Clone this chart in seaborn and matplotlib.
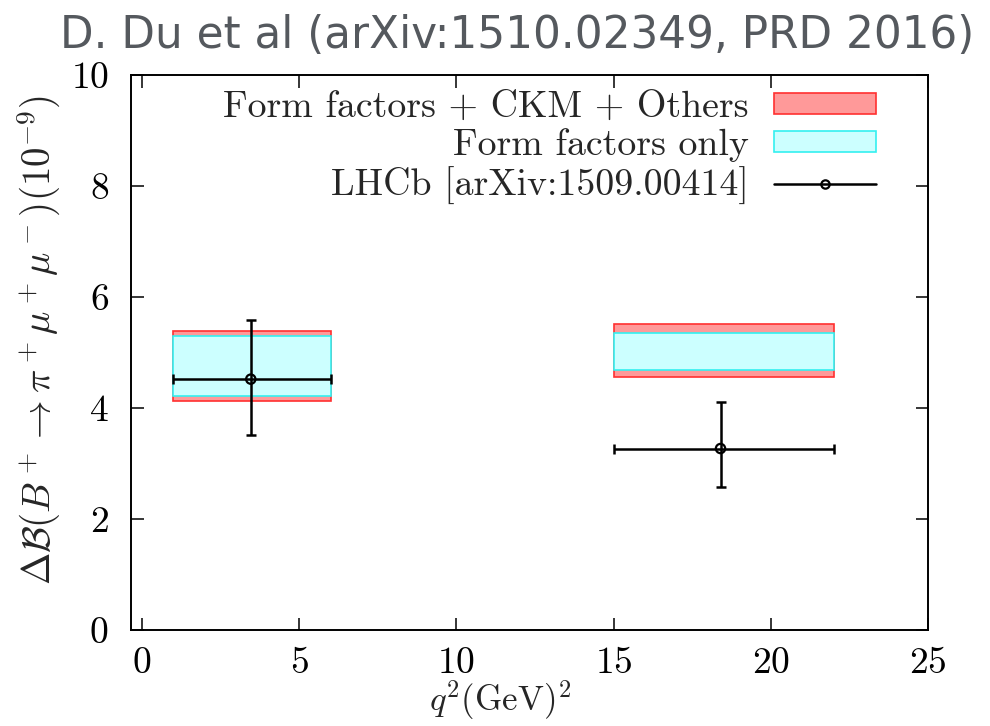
import matplotlib
matplotlib.use("Agg")
import matplotlib.pyplot as plt
import seaborn as sns
import pandas as pd
from matplotlib.patches import Patch
from matplotlib.lines import Line2D

# q^2 bins (GeV^2)
bin_lo = [1.0, 15.0]
bin_hi = [6.0, 22.0]

# Theory band: form factors + CKM + others (10^-9)
full_lo = [4.13, 4.55]
full_hi = [5.39, 5.51]

# Theory band: form factors only (10^-9)
ff_lo = [4.21, 4.68]
ff_hi = [5.30, 5.36]

# LHCb measurement
lhcb_q2 = [3.46, 18.4]
lhcb_val = [4.52, 3.27]
lhcb_err_up = [1.07, 0.84]
lhcb_err_dn = [1.00, 0.69]

x_ticks = [0, 5, 10, 15, 20, 25]
y_ticks = [0, 2, 4, 6, 8, 10]

legend_labels = ["Form factors + CKM + Others", "Form factors only",
                 "LHCb [arXiv:1509.00414]"]
title = "D. Du et al (arXiv:1510.02349, PRD 2016)"

sns.set_theme(style="ticks")
plt.rcParams.update({
    "font.family": "serif",
    "font.serif": ["cmr10"],
    "mathtext.fontset": "cm",
    "axes.unicode_minus": False,
    "axes.formatter.use_mathtext": True,
})

df = pd.DataFrame({"q2": lhcb_q2, "val": lhcb_val})

fig = plt.figure(figsize=(9.9, 7.26), dpi=100)
ax = fig.add_axes([0.1323, 0.1322, 0.9374 - 0.1323, 0.8967 - 0.1322])

red_face, red_edge = "#ff9999", "#ff3030"
cyan_face, cyan_edge = "#ccffff", "#33f0f0"

for lo, hi, a, b in zip(bin_lo, bin_hi, full_lo, full_hi):
    ax.bar((lo + hi) / 2, b - a, bottom=a, width=hi - lo,
           color=red_face, edgecolor=red_edge, linewidth=1.2, zorder=2)
for lo, hi, a, b in zip(bin_lo, bin_hi, ff_lo, ff_hi):
    ax.bar((lo + hi) / 2, b - a, bottom=a, width=hi - lo,
           color=cyan_face, edgecolor=cyan_edge, linewidth=1.2, zorder=3)

xerr_lo = [c - lo for c, lo in zip(lhcb_q2, bin_lo)]
xerr_hi = [hi - c for c, hi in zip(lhcb_q2, bin_hi)]
ax.errorbar(lhcb_q2, lhcb_val, xerr=[xerr_lo, xerr_hi],
            yerr=[lhcb_err_dn, lhcb_err_up], fmt="none", ecolor="black",
            elinewidth=1.8, capsize=3.5, capthick=1.8, zorder=4)
sns.scatterplot(data=df, x="q2", y="val", ax=ax, marker="o", s=45,
                facecolor="none", edgecolor="black", linewidth=1.6, zorder=5)

ax.set_xlim(-0.35, 25)
ax.set_ylim(0, 10)
ax.set_xticks(x_ticks)
ax.set_yticks(y_ticks)
ax.tick_params(direction="in", length=9, width=1.1, top=True, right=True,
               labelsize=27, colors="black")
ax.tick_params(axis="x", pad=12)
ax.tick_params(axis="y", pad=16)
for s in ax.spines.values():
    s.set_linewidth(1.4)
    s.set_color("black")

ax.set_xlabel(r"$q^2(\mathrm{GeV})^2$", fontsize=25)
ax.xaxis.set_label_coords(0.4625, -0.088)
ax.set_ylabel(r"$\Delta\mathcal{B}(B^+\to\pi^+\mu^+\mu^-)(10^{-9})$",
              fontsize=28)
ax.yaxis.set_label_coords(-0.087, 0.5225)

handles = [
    Patch(facecolor=red_face, edgecolor=red_edge, linewidth=1.2),
    Patch(facecolor=cyan_face, edgecolor=cyan_edge, linewidth=1.2),
    Line2D([0], [0], color="black", lw=1.8, marker="o", markersize=6,
           markerfacecolor="none", markeredgewidth=1.6),
]
ax.legend(handles, legend_labels, loc="upper right",
          bbox_to_anchor=(0.9348, 0.972), markerfirst=False,
          frameon=False, fontsize=27.3, handlelength=2.7, handleheight=0.48,
          labelspacing=0.12, handletextpad=0.66, borderaxespad=0.0,
          borderpad=0.0)

fig.text(60 / 990, 1 - 36 / 726, title, family="DejaVu Sans",
         fontsize=31.5, color="#55595e", ha="left", va="center")

fig.savefig("out.png", dpi=100)
